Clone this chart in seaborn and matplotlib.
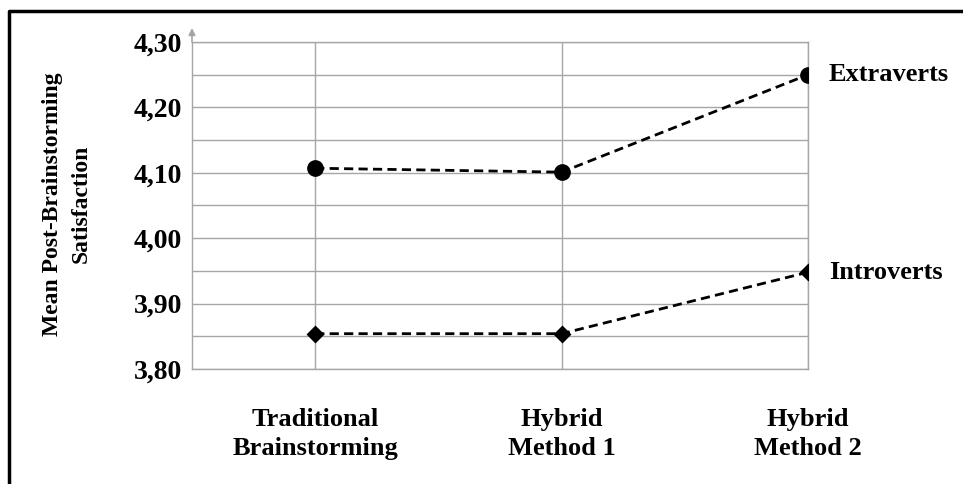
import matplotlib
matplotlib.use("Agg")
import matplotlib.pyplot as plt
import matplotlib.ticker as mticker
from matplotlib.lines import Line2D
import pandas as pd
import seaborn as sns

# Data
conditions = ["Traditional\nBrainstorming", "Hybrid\nMethod 1", "Hybrid\nMethod 2"]
extraverts = [4.107, 4.101, 4.25]
introverts = [3.854, 3.854, 3.948]
groups = ["Extraverts", "Introverts"]

df = pd.DataFrame({
    "condition": conditions * 2,
    "satisfaction": extraverts + introverts,
    "group": [groups[0]] * 3 + [groups[1]] * 3,
})

sns.set_style("white")
plt.rcParams["font.family"] = ["Liberation Serif", "DejaVu Serif"]
plt.rcParams["font.weight"] = "bold"
plt.rcParams["text.color"] = "black"
plt.rcParams["xtick.color"] = "black"
plt.rcParams["ytick.color"] = "black"

W, H = 963, 484
fig = plt.figure(figsize=(W / 100, H / 100), dpi=100)
ax = fig.add_axes([192 / W, 1 - 369 / H, (808 - 192) / W, (369 - 42) / H])

sns.pointplot(
    data=df, x="condition", y="satisfaction", hue="group",
    palette=["black", "black"], markers=["o", "D"], linestyles=["--", "--"],
    errorbar=None, ax=ax, legend=False,
)
for line in ax.lines:
    line.set_linewidth(2)
    line.set_dashes((3.3, 1.9))
    line.set_zorder(5)
    line.set_markersize(10 if line.get_marker() == "o" else 7)

ax.set_xlim(-0.5, 2)
ax.set_ylim(3.80, 4.30)
ax.yaxis.set_major_locator(mticker.MultipleLocator(0.10))
ax.yaxis.set_minor_locator(mticker.MultipleLocator(0.05))
ax.yaxis.set_major_formatter(mticker.FuncFormatter(lambda v, p: f"{v:.2f}".replace(".", ",")))
ax.grid(True, which="both", axis="y", color="#a6a6a6", lw=1)
ax.grid(True, which="major", axis="x", color="#a6a6a6", lw=1)
ax.set_axisbelow(True)
for s in ax.spines.values():
    s.set_color("#a6a6a6")
    s.set_linewidth(1)
ax.tick_params(axis="both", length=0)
ax.tick_params(axis="y", pad=7, labelsize=20)
ax.tick_params(axis="x", pad=28, labelsize=19)
for t in ax.get_xticklabels():
    t.set_linespacing(1.32)
    t.set_fontweight("bold")
for t in ax.get_yticklabels():
    t.set_fontweight("bold")
ax.set_xlabel("")
ax.set_ylabel("")

# series labels at the line ends
for name, vals in zip(groups, [extraverts, introverts]):
    ax.annotate(name, xy=(2, vals[-1]), xytext=(15, 0), textcoords="offset points",
                va="center", ha="left", fontsize=19, fontweight="bold",
                annotation_clip=False)

# small arrow on top of the y axis
ax.annotate("", xy=(0, 1.0 + 14 / 327), xytext=(0, 1.0), xycoords="axes fraction",
            arrowprops=dict(arrowstyle="-|>", color="#a6a6a6", lw=1.2, mutation_scale=10,
                            shrinkA=0, shrinkB=0),
            annotation_clip=False)

fig.text(67 / W, 1 - 204 / H, "Mean Post-Brainstorming\nSatisfaction", rotation=90,
         ha="center", va="center", fontsize=17, fontweight="bold", linespacing=1.45,
         multialignment="center")

# outer frame (top and left edges)
fig.add_artist(Line2D([9 / W, 9 / W, 1], [0, 1 - 11 / H, 1 - 11 / H],
                      color="black", lw=2.5, transform=fig.transFigure))

fig.savefig("out.png", dpi=100)
